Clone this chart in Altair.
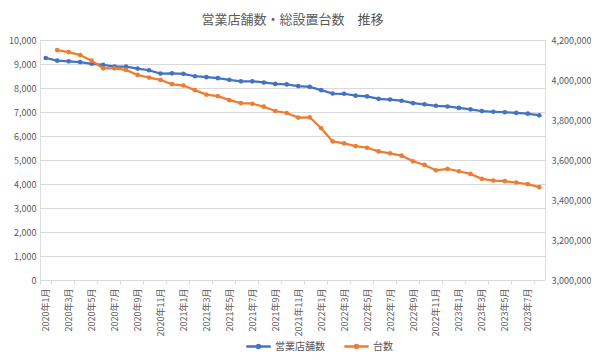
import altair as alt
import pandas as pd

months = [f"{y}年{m}月" for y in (2020, 2021, 2022, 2023) for m in range(1, 13)][:44]

stores = [9250, 9140, 9110, 9080, 9010, 8960, 8890, 8890, 8810, 8740,
          8600, 8610, 8590, 8490, 8450, 8410, 8340, 8280, 8280, 8230,
          8170, 8150, 8080, 8050, 7910, 7770, 7760, 7680, 7650, 7550,
          7520, 7470, 7370, 7320, 7260, 7230, 7170, 7110, 7040, 7010,
          6990, 6960, 6930, 6860]

units = [4149500, 4139600, 4124700, 4096600, 4058500, 4058500, 4050200, 4025400,
         4012100, 4000600, 3979000, 3972400, 3949300, 3926900, 3919500, 3899600,
         3884700, 3881400, 3866500, 3845000, 3835100, 3811900, 3813500, 3758900,
         3692700, 3682800, 3669600, 3661300, 3643100, 3633200, 3621600, 3593400,
         3575200, 3548700, 3555400, 3543800, 3530500, 3505700, 3497400, 3494100,
         3487500, 3479200, 3464300]

series_names = ["営業店舗数", "台数"]
colors = ["#4472C4", "#ED7D31"]

label_months = months[0::2]

df_a = pd.DataFrame({"month": months, "value": stores, "series": series_names[0]})
df_b = pd.DataFrame({"month": months[1:], "value": units, "series": series_names[1]})

FONT = "Noto Sans CJK JP"
GRAY = "#595959"
GRID = "#D9D9D9"

x_enc = alt.X("month:O", sort=months,
              scale=alt.Scale(type="band", domain=months, paddingInner=0, paddingOuter=0),
              axis=alt.Axis(title=None, values=label_months, labelAngle=-90,
                            labelFontSize=9, labelColor=GRAY, labelFont=FONT,
                            domainColor=GRID, tickColor=GRID, tickSize=4,
                            tickBand="extent", labelPadding=4, grid=False))

color_enc = alt.Color("series:N",
                      scale=alt.Scale(domain=series_names, range=colors),
                      legend=alt.Legend(title=None, orient="none", direction="horizontal",
                                        legendX=205, legendY=293,
                                        labelFont=FONT, labelFontSize=10, labelColor=GRAY,
                                        symbolType="M-1,0H1M0,-0.12A0.12,0.12,0,1,1,0,0.12A0.12,0.12,0,1,1,0,-0.12",
                                        symbolStrokeWidth=2.5, symbolSize=600,
                                        labelOffset=3, columnPadding=14))

left = alt.Chart(df_a).mark_line(
    strokeWidth=2.25, point=alt.OverlayMarkDef(filled=True, size=22)
).encode(
    x=x_enc,
    y=alt.Y("value:Q", scale=alt.Scale(domain=[0, 10000]),
            axis=alt.Axis(title=None, orient="left", values=list(range(0, 10001, 1000)),
                          format=",d", labelFontSize=9, labelColor=GRAY, labelFont=FONT,
                          domain=False, ticks=False, labelPadding=4,
                          grid=True, gridColor=GRID)),
    color=color_enc,
)

right = alt.Chart(df_b).mark_line(
    strokeWidth=2.25, point=alt.OverlayMarkDef(filled=True, size=22)
).encode(
    x=x_enc,
    y=alt.Y("value:Q", scale=alt.Scale(domain=[3000000, 4200000]),
            axis=alt.Axis(title=None, orient="right", values=list(range(3000000, 4200001, 200000)),
                          format=",d", labelFontSize=9, labelColor=GRAY, labelFont=FONT,
                          domain=False, ticks=False, labelPadding=6, grid=False)),
    color=color_enc,
)

chart = alt.layer(left, right).resolve_scale(y="independent").properties(
    width=505, height=240,
    padding={"left": 0, "top": 6, "right": 0, "bottom": 0},
    title=alt.TitleParams("営業店舗数・総設置台数　推移", fontSize=13, color=GRAY,
                          fontWeight="normal", font=FONT, offset=9, anchor="middle"),
).configure_view(stroke=None).configure(background="white")

chart.save("out.html", embed_options={"renderer": "svg", "actions": False})
